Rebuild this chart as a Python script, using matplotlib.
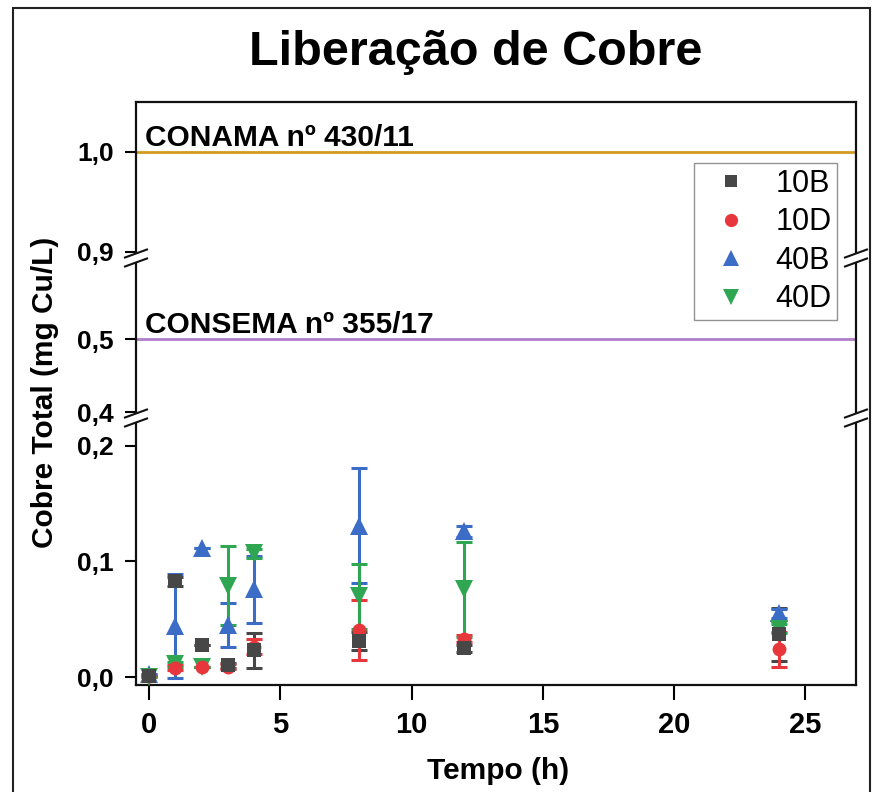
import numpy as np
import matplotlib
matplotlib.use("Agg")
import matplotlib.pyplot as plt
from matplotlib.lines import Line2D
from matplotlib.patches import Rectangle, Polygon
import matplotlib.transforms as mtransforms

plt.rcParams['font.family'] = ['Liberation Sans', 'DejaVu Sans']

# --- data -------------------------------------------------------------
tempo_h = [0, 1, 2, 3, 4, 8, 12, 24]

cobre_10B = [0.001, 0.083, 0.028, 0.010, 0.023, 0.031, 0.025, 0.037]
erro_10B = [0.0, 0.004, 0.0, 0.002, 0.015, 0.008, 0.003, 0.023]

cobre_10D = [0.001, 0.008, 0.009, 0.009, 0.026, 0.041, 0.033, 0.024]
erro_10D = [0.0, 0.002, 0.0, 0.002, 0.0065, 0.026, 0.003, 0.015]

cobre_40B = [0.003, 0.044, 0.112, 0.045, 0.076, 0.131, 0.126, 0.055]
erro_40B = [0.0, 0.045, 0.0, 0.019, 0.029, 0.050, 0.005, 0.004]

cobre_40D = [0.000, 0.011, 0.009, 0.079, 0.107, 0.070, 0.076, 0.042]
erro_40D = [0.0, 0.002, 0.0, 0.034, 0.004, 0.028, 0.041, 0.004]

series_labels = ['10B', '10D', '40B', '40D']
series_colors = ['#474747', '#e8373c', '#3b6cc6', '#2ea652']
series_markers = ['s', 'o', '^', 'v']
series_sizes = [9.5, 10.0, 12.5, 12.5]

limite_conama = 1.0
limite_consema = 0.5
rotulo_conama = 'CONAMA nº 430/11'
rotulo_consema = 'CONSEMA nº 355/17'

y_ticks = [0.0, 0.1, 0.2, 0.4, 0.5, 0.9, 1.0]
y_ticklabels = ['0,0', '0,1', '0,2', '0,4', '0,5', '0,9', '1,0']
x_ticks = [0, 5, 10, 15, 20, 25]

# --- broken y scale (three linear pieces stacked without gaps) --------
seg_limits = [(-0.0069, 0.2242), (0.3918, 0.611), (0.894, 1.05)]
seg_heights = [267, 160, 156]

yk, vk = [], []
v0 = 0.0
for (lo, hi), h in zip(seg_limits, seg_heights):
    yk += [lo, hi]
    vk += [v0 + 1e-6, v0 + h]
    v0 += h
vk[0] = 0.0
s_lo = seg_heights[0] / (seg_limits[0][1] - seg_limits[0][0])
s_hi = seg_heights[-1] / (seg_limits[-1][1] - seg_limits[-1][0])
yk = [-1.0] + yk + [2.0]
vk = [-(1.0 + seg_limits[0][0]) * s_lo] + vk + [v0 + (2.0 - seg_limits[-1][1]) * s_hi]
yk = np.array(yk)
vk = np.array(vk)


def fwd(y):
    return np.interp(y, yk, vk)


def inv(v):
    return np.interp(v, vk, yk)


# --- figure -----------------------------------------------------------
W, H = 874, 792
fig = plt.figure(figsize=(W / 100, H / 100), dpi=100)
ax = fig.add_axes([136 / W, (H - 685) / H, 720 / W, 583 / H])
ax.set_yscale('function', functions=(fwd, inv))
ax.set_ylim(seg_limits[0][0], seg_limits[-1][1])
ax.set_xlim(-0.5, 26.93)

# outer frame
fig.add_artist(Rectangle((13 / W, -0.05), (870 - 13) / W, 1.05 - 8 / H,
                         transform=fig.transFigure, fill=False,
                         edgecolor='#222222', linewidth=1.5))

# regulatory limits
ax.axhline(limite_conama, color='#d19b1e', linewidth=2.0, zorder=1)
ax.axhline(limite_consema, color='#b07fcc', linewidth=2.0, zorder=1)
trans_lbl = mtransforms.blended_transform_factory(ax.transAxes, ax.transData)
ax.text(0.0125, limite_conama, rotulo_conama, transform=trans_lbl,
        fontsize=21.5, fontweight='bold', va='bottom', ha='left')
ax.text(0.0125, limite_consema, rotulo_consema, transform=trans_lbl,
        fontsize=21.5, fontweight='bold', va='bottom', ha='left')

# measured series: error bars first, markers on top
series_vals = [cobre_10B, cobre_10D, cobre_40B, cobre_40D]
series_errs = [erro_10B, erro_10D, erro_40B, erro_40D]
handles = []
for vals, errs, col in zip(series_vals, series_errs, series_colors):
    ax.errorbar(tempo_h, vals, yerr=errs, fmt='none', ecolor=col,
                elinewidth=2.2, capsize=5.5, capthick=2.2, zorder=3)
for vals, lab, col, mk, ms, z in zip(series_vals, series_labels, series_colors,
                                     series_markers, series_sizes, [4.3, 4.2, 4.0, 4.1]):
    ax.plot(tempo_h, vals, linestyle='none', marker=mk, color=col,
            markersize=ms, markeredgewidth=0, zorder=z)
    handles.append(Line2D([], [], linestyle='none', marker=mk, color=col,
                          markersize=ms * 0.95, markeredgewidth=0, label=lab))

leg = ax.legend(handles=handles, loc='upper right', bbox_to_anchor=(0.974, 0.895),
                fontsize=22, frameon=True, fancybox=False, borderaxespad=0,
                handlelength=2.1, handletextpad=0.4, labelspacing=0.28,
                borderpad=0.18, markerfirst=True)
leg.get_frame().set_edgecolor('#777777')
leg.get_frame().set_linewidth(1.0)

# axes styling
for sp in ax.spines.values():
    sp.set_linewidth(1.6)
    sp.set_color('#111111')
ax.set_yticks(y_ticks)
ax.set_yticklabels(y_ticklabels)
ax.set_xticks(x_ticks)
ax.minorticks_off()
ax.tick_params(axis='y', which='major', length=8, width=1.5, pad=8,
               labelsize=19, direction='out')
ax.tick_params(axis='x', which='major', length=11, width=1.5, pad=8,
               labelsize=21, direction='out')
for lbl in ax.get_yticklabels() + ax.get_xticklabels():
    lbl.set_fontweight('bold')

# break marks on both vertical spines
brk_centres = [fwd(seg_limits[0][1]) / v0, fwd(seg_limits[1][1]) / v0]
dx = 11 / 720
dy = 4 / 583
gap = 4.5 / 583
for xs in (0.0, 1.0):
    for yc in brk_centres:
        poly = Polygon([[xs - dx, yc - gap - dy], [xs + dx, yc - gap + dy],
                        [xs + dx, yc + gap + dy], [xs - dx, yc + gap - dy]],
                       closed=True, transform=ax.transAxes, facecolor='white',
                       edgecolor='none', clip_on=False, zorder=5)
        ax.add_patch(poly)
        for s in (-1, 1):
            ax.plot([xs - dx, xs + dx], [yc + s * gap - dy, yc + s * gap + dy],
                    transform=ax.transAxes, color='#111111', linewidth=1.5,
                    clip_on=False, zorder=6)

# titles
fig.text(476 / W, 1 - 65 / H, 'Liberação de Cobre', fontsize=35,
         fontweight='bold', ha='center', va='baseline')
fig.text(45 / W, 1 - 392 / H, 'Cobre Total (mg Cu/L)', fontsize=21.5,
         fontweight='bold', rotation=90, ha='center', va='center')
fig.text(498 / W, 1 - 779 / H, 'Tempo (h)', fontsize=21.5,
         fontweight='bold', ha='center', va='baseline')

fig.savefig('out.png', dpi=100)
